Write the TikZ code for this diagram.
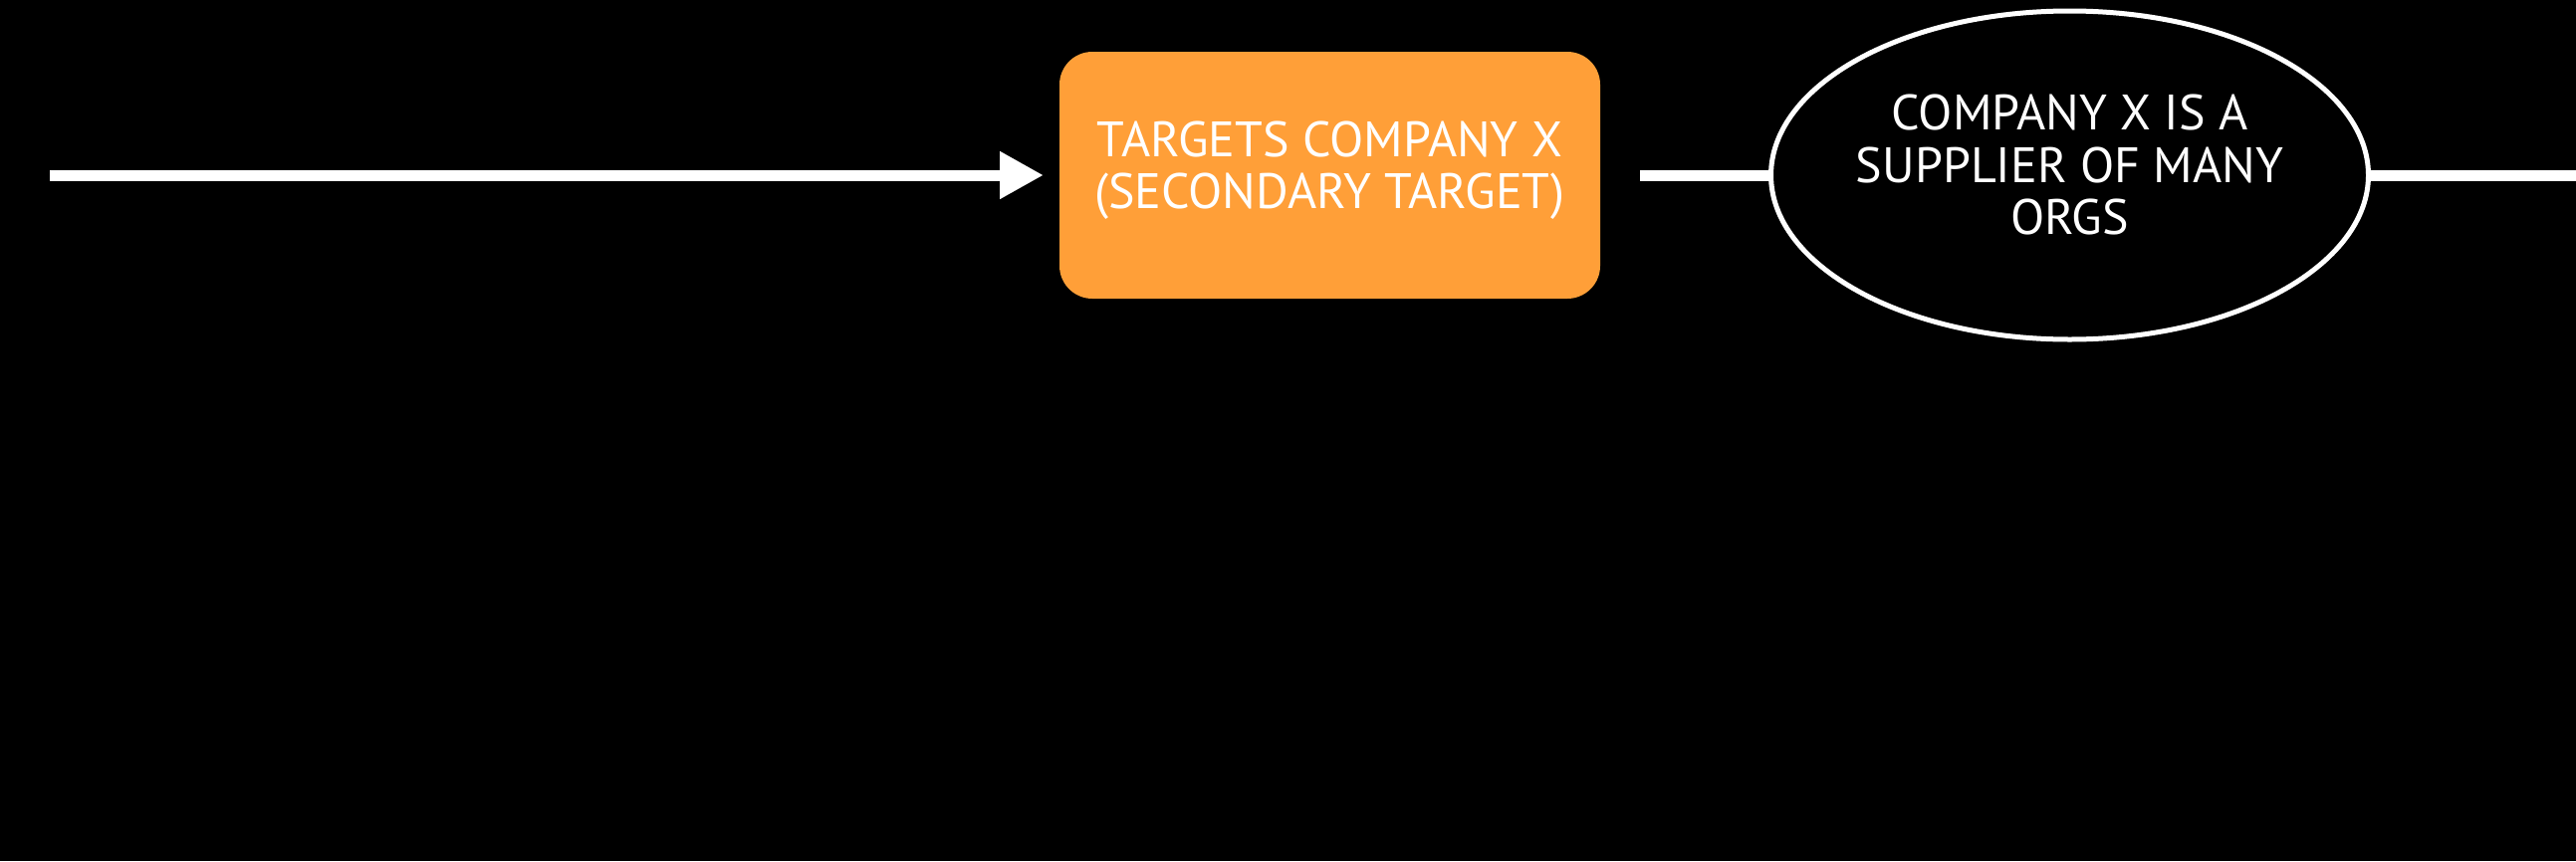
\documentclass[tikz,border=0pt]{standalone}
\usepackage{fontspec}
\newfontfamily\diagfont{PT Sans}
\usetikzlibrary{positioning}
\usetikzlibrary{arrows.meta}
\usetikzlibrary{shapes.geometric}
\definecolor{keyorange}{RGB}{255,159,56}

\begin{document}
\begin{tikzpicture}[x=1pt, y=-1pt,
                    every node/.append style={font=\diagfont\fontsize{50}{52.5}\selectfont, text=white, outer sep=0pt, align=center, text depth=21pt},
                    targetbox/.style={rectangle, fill=keyorange, rounded corners=33pt, minimum width=543pt, minimum height=248pt},
                    oval/.style={ellipse, draw=white, line width=5pt, fill=black, minimum width=600pt, minimum height=330pt, inner sep=-8pt},
                    link/.style={draw=white, line width=11pt},
                    node distance=171.5pt]
    % Background
    \fill [black] (0,0) rectangle (2587,865);
    \useasboundingbox (0,0) rectangle (2587,865);

    \coordinate (start) at (50,176);
    \node [targetbox] (secondary) at (1335.5,176) {TARGETS COMPANY X\\(SECONDARY TARGET)};
    \node [oval, right=of secondary] (supplier) {COMPANY X IS A\\SUPPLIER OF MANY\\ORGS};
    \coordinate (edge) at (2587,176);

    % Draw the connectors
    \draw [link, -{Triangle[length=44pt, width=45pt]}, shorten >=16pt] (start) -- (secondary.west);
    \draw [link, shorten <=40pt] (secondary.east) -- (supplier.west);
    \draw [link] (supplier.east) -- (edge);
\end{tikzpicture}
\end{document}
